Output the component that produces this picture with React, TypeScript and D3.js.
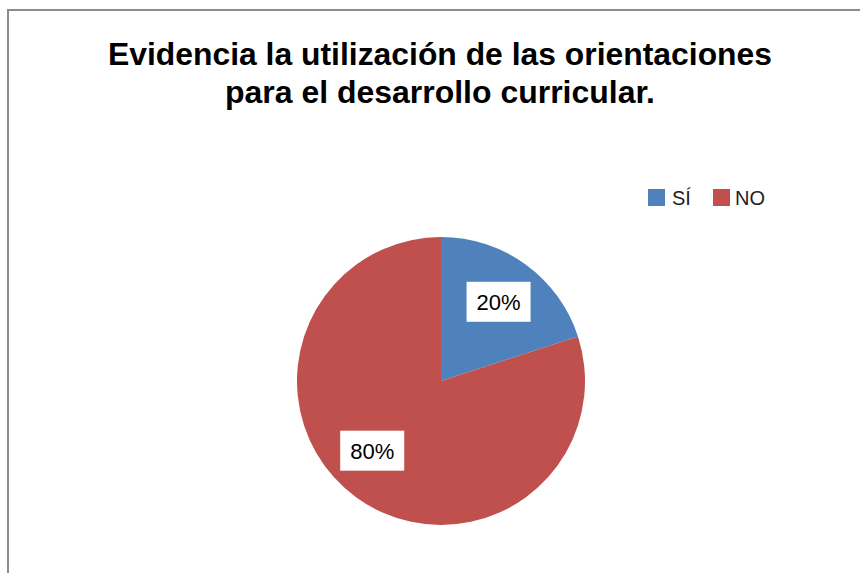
import React, { useEffect, useRef } from "react";
import * as d3 from "d3";

const titleLines = [
  "Evidencia la utilización de las orientaciones",
  "para el desarrollo curricular.",
];
const categories = ["SÍ", "NO"];
const values = [20, 80];
const colors = ["#4F81BD", "#C0504D"];

export default function App() {
  const svgRef = useRef<SVGSVGElement>(null);

  useEffect(() => {
    const width = 860;
    const height = 573;
    const svg = d3.select(svgRef.current);
    svg.selectAll("*").remove();
    svg.attr("width", width).attr("height", height);

    svg
      .append("rect")
      .attr("width", width)
      .attr("height", height)
      .attr("fill", "white");

    // chart border (right and bottom edges are cut off)
    svg
      .append("rect")
      .attr("x", 8)
      .attr("y", 10)
      .attr("width", 900)
      .attr("height", 700)
      .attr("fill", "none")
      .attr("stroke", "#8c8c8c")
      .attr("stroke-width", 2);

    // title
    const titleWidths = [664, 430];
    svg
      .selectAll(".title")
      .data(titleLines)
      .enter()
      .append("text")
      .attr("class", "title")
      .attr("x", 440)
      .attr("y", (d, i) => 65 + i * 38)
      .attr("text-anchor", "middle")
      .attr("textLength", (d, i) => titleWidths[i])
      .attr("lengthAdjust", "spacingAndGlyphs")
      .style("font-family", "'Liberation Sans', Arial, sans-serif")
      .style("font-weight", "bold")
      .style("font-size", "31px")
      .style("fill", "#000")
      .text((d) => d);

    // pie
    const cx = 441;
    const cy = 381;
    const radius = 144;
    const g = svg.append("g").attr("transform", `translate(${cx}, ${cy})`);

    const data = categories.map((c, i) => ({ cat: c, value: values[i] }));
    const pie = d3
      .pie<{ cat: string; value: number }>()
      .value((d) => d.value)
      .sort(null);
    const arc = d3
      .arc<d3.PieArcDatum<{ cat: string; value: number }>>()
      .innerRadius(0)
      .outerRadius(radius);
    const arcs = pie(data);

    g.selectAll("path")
      .data(arcs)
      .enter()
      .append("path")
      .attr("d", arc)
      .attr("fill", (d, i) => colors[i]);

    // data labels with white boxes
    const total = d3.sum(values);
    const labelR = radius * 0.68;
    arcs.forEach((d) => {
      const span = d.endAngle - d.startAngle;
      // large slice label sits a bit past the middle (best fit)
      const f = span > Math.PI ? 0.53 : 0.5;
      const a = d.startAngle + span * f;
      const x = Math.sin(a) * labelR;
      const y = -Math.cos(a) * labelR;
      const lg = g.append("g").attr("transform", `translate(${x}, ${y})`);
      lg.append("rect")
        .attr("x", -32)
        .attr("y", -20)
        .attr("width", 64)
        .attr("height", 40)
        .attr("fill", "white");
      lg.append("text")
        .attr("text-anchor", "middle")
        .attr("dy", "0.36em")
        .style("font-family", "'Liberation Sans', Arial, sans-serif")
        .style("font-size", "22px")
        .style("fill", "#000")
        .text(`${Math.round((d.data.value / total) * 100)}%`);
    });

    // legend
    const legendX = [648, 713];
    const legend = svg
      .selectAll(".legend")
      .data(categories)
      .enter()
      .append("g")
      .attr("class", "legend")
      .attr("transform", (d, i) => `translate(${legendX[i]}, 189)`);

    legend
      .append("rect")
      .attr("width", 17)
      .attr("height", 17)
      .attr("fill", (d, i) => colors[i]);

    legend
      .append("text")
      .attr("x", (d, i) => (i === 0 ? 24 : 22))
      .attr("y", 16)
      .style("font-family", "'Liberation Sans', Arial, sans-serif")
      .style("font-size", "20px")
      .style("fill", "#222")
      .text((d) => d);
  }, []);

  return (
    <svg
      ref={svgRef}
      style={{ position: "absolute", left: 0, top: 0, display: "block" }}
    ></svg>
  );
}
